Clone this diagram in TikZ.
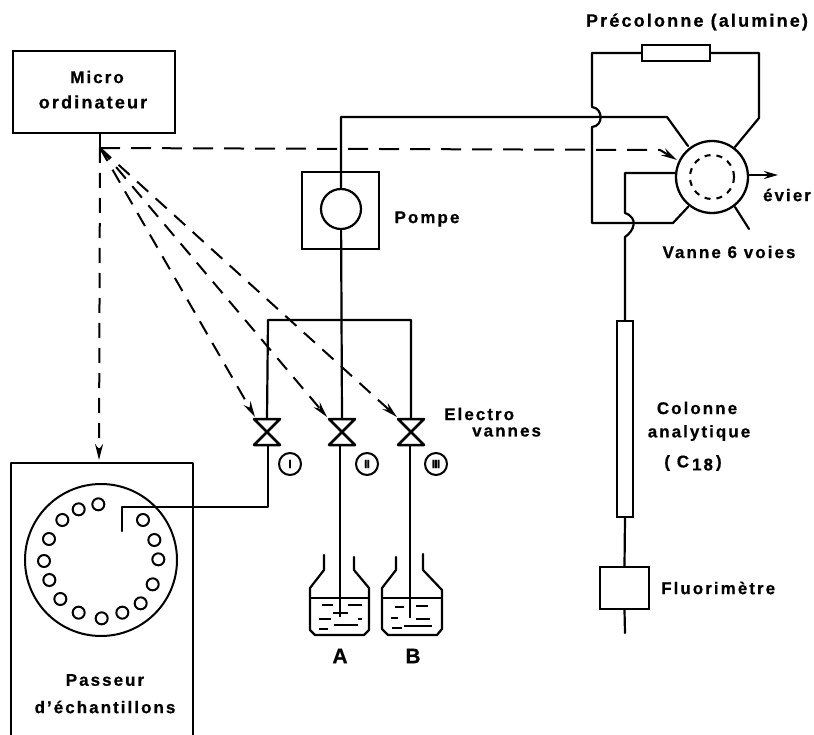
\documentclass[tikz,border=0pt]{standalone}
\usepackage{fontspec}
\setmainfont{Liberation Sans}[LetterSpace=12,BoldFeatures={FakeBold=0.6}]
\usetikzlibrary{arrows.meta}
\tikzset{
  pipe/.style={line width=2.2pt,line join=round,line cap=round},
  ctl/.style={line width=2pt,dash pattern=on 15pt off 10pt,-{Stealth[length=16pt,width=8pt]}},
  box/.style={draw,line width=2.2pt,inner sep=0pt},
  lab/.style={font=\fontsize{17}{20}\selectfont\bfseries,inner sep=0pt},
  num/.style={draw,circle,line width=2pt,minimum size=22pt,inner sep=0pt,font=\fontsize{12}{12}\selectfont\bfseries\addfontfeature{LetterSpace=-6}},
  vial/.style={draw,circle,line width=2pt,minimum size=12pt,inner sep=0pt},
}
\newcommand{\valvetie}[1]{\draw[pipe,line width=2.5pt] (#1)++(-13,0) -- ++(26,0) -- ++(-26,26) -- ++(26,0) -- cycle;}
\begin{document}
\begin{tikzpicture}[x=1pt,y=-1pt]
\useasboundingbox (0,0) rectangle (814,735);
% boxes
\node[box,minimum width=162pt,minimum height=82pt] (micro) at (94,92) {};
\node[lab] (microt) at (97,77) {Micro};
\node[lab,font=\fontsize{18}{20}\selectfont\bfseries] (microu) at (93,102) {ordinateur};
\node[box,minimum width=77pt,minimum height=77pt] (pompe) at (340.5,210.5) {};
\node[draw,circle,line width=2.2pt,minimum size=40pt,inner sep=0pt] (pcirc) at (341,209) {};
\node[lab] (pompet) at (427,219) {Pompe};
% passeur
\coordinate (pa) at (11,735); \coordinate (pb) at (11,463); \coordinate (pc) at (193,463); \coordinate (pd) at (193,735);
\draw[pipe] (pa) -- (pb) -- (pc) -- (pd);
\node[draw,circle,line width=2pt,minimum size=152pt,inner sep=0pt] (carou) at (101,560) {};
\foreach \i/\a/\b in {1/295/133,2/236/148,3/187/180,4/147/237,5/132/303,6/148/360,7/181/417,8/236/458,9/305/475,10/367/458,11/422/430,12/458/373,13/475/298,14/463/240,15/429/180}
  \node[vial] (v\i) at ({\a/3},{460+\b/3}) {};
\node[lab] (past) at (105,680) {Passeur};
\node[lab] (pasu) at (105,707) {d'échantillons};
% valves
\coordinate (vI) at (267,419); \coordinate (vII) at (342,419); \coordinate (vIII) at (411,419);
\valvetie{vI} \valvetie{vII} \valvetie{vIII}
\node[num] (nI) at (290,464) {I};
\node[num] (nII) at (367,464) {II};
\node[num] (nIII) at (436,464) {III};
\node[lab,anchor=west] (elect) at (444,414) {Electro};
\node[lab,anchor=west] (elecu) at (472,432) {vannes};
% pipes near pump and valves
\coordinate (tl) at (268,320); \coordinate (tr) at (411,320);
\draw[pipe] (vI) -- (tl) -- (tr) -- (vIII);
\draw[pipe] (pcirc) -- (vII);
\coordinate (iA) at (268,445); \coordinate (iB) at (268,507); \coordinate (iC) at (122,507); \coordinate (iD) at (122,531);
\draw[pipe] (iA) -- (iB) -- (iC) -- (iD);
% bottles
\coordinate (bA) at (340,445); \coordinate (eA) at (340,617);
\draw[line width=2pt] (bA) -- (eA);
\coordinate (bB) at (410,445); \coordinate (eB) at (410,618);
\draw[line width=2pt] (bB) -- (eB);
\draw[pipe] (324,555) -- (324,570) -- (310,588) -- (310,630) -- (315,635) -- (364,635) -- (369,630) -- (369,588) -- (354,570) -- (354,557);
\draw[pipe,line width=1.8pt] (310,598) -- (369,598);
\draw[pipe] (396,557) -- (396,570) -- (382,588) -- (382,629) -- (388,635) -- (437,635) -- (442,629) -- (442,590) -- (423,570) -- (423,554);
\draw[pipe,line width=1.8pt] (382,598) -- (442,598);
\foreach \p/\q/\r in {322/333/605,348/362/605,333/348/613,319/331/619,358/362/619,319/328/629,334/358/625,395/404/607,416/428/606,416/430/619,391/398/618,392/402/628,404/432/626}
  \draw[line width=1.5pt] (\p,\r) -- (\q,\r);
\node[font=\fontsize{21}{21}\selectfont\bfseries,inner sep=0pt] (labA) at (340,656) {A};
\node[font=\fontsize{21}{21}\selectfont\bfseries,inner sep=0pt] (labB) at (413,656) {B};
% six-way valve
\node[draw,circle,line width=2.3pt,minimum size=72pt,inner sep=0pt] (six) at (712,177) {};
\node[draw,circle,line width=2.1pt,dash pattern=on 6pt off 6pt,minimum size=44pt,inner sep=0pt] (sixin) at (712,177) {};
\node[box,minimum width=68pt,minimum height=16pt] (prec) at (676,53) {};
\node[lab,font=\fontsize{18}{20}\selectfont\bfseries] (prect) at (697,22) {Précolonne (alumine)};
\node[lab] (vannet) at (729,252) {Vanne 6 voies};
\node[lab] (evier) at (787,195) {évier};
\coordinate (p1) at (592,53); \coordinate (p2) at (592,107); \coordinate (p3) at (592,127); \coordinate (p4) at (592,223); \coordinate (p5) at (673,223); \coordinate (p6) at (688,207);
\draw[pipe] (prec.west) -- (p1) -- (p2) .. controls (603,108) and (604,126) .. (p3) -- (p4) -- (p5) -- (p6);
\coordinate (q1) at (759,53); \coordinate (q2) at (759,118); \coordinate (q3) at (735,147);
\draw[pipe] (prec.east) -- (q1) -- (q2) -- (q3);
\coordinate (r1) at (341,117); \coordinate (r2) at (667,117); \coordinate (r3) at (688,146);
\draw[pipe] (pcirc) -- (r1) -- (r2) -- (r3);
\coordinate (s1) at (676,173); \coordinate (s2) at (625,173); \coordinate (s3) at (625,213); \coordinate (s4) at (625,237);
% column
\node[box,minimum width=16pt,minimum height=196pt] (col) at (625,419) {};
\draw[pipe] (s1) -- (s2) -- (s3) .. controls (639,218) and (634,231) .. (s4) -- (col.north);
\node[lab] (colt) at (697,408) {Colonne};
\node[lab] (colu) at (699,433) {analytique};
\node[lab] (colv) at (693,463) {( C\hspace{3pt}\raisebox{-3pt}{18}\hspace{3pt})};
\node[box,minimum width=49pt,minimum height=42pt] (fluo) at (624.5,588) {};
\node[lab,anchor=west] (fluot) at (661,588) {Fluorimètre};
\coordinate (f1) at (625,633);
\draw[pipe] (col.south) -- (fluo.north);
\draw[pipe] (fluo.south) -- (f1);
\coordinate (o1) at (735,207); \coordinate (o2) at (749,229);
\draw[pipe] (o1) -- (o2);
\coordinate (ev1) at (748,175); \coordinate (ev2) at (778,175);
\draw[pipe,-{Stealth[length=14pt,width=8pt]}] (ev1) -- (ev2);
% control lines
\coordinate (apex) at (100,148);
\coordinate (tI) at (255,417); \coordinate (tII) at (327,417); \coordinate (tIII) at (397,417);
\coordinate (tP) at (99,460); \coordinate (kink) at (660,150); \coordinate (tS) at (677,160);
\draw[pipe] (micro.south -| apex) -- (apex);
\draw[ctl] (apex) -- (tI);
\draw[ctl] (apex) -- (tII);
\draw[ctl] (apex) -- (tIII);
\draw[ctl] (apex) -- (tP);
\draw[ctl,dash pattern=on 20pt off 11pt] (apex) -- (kink) -- (tS);
\end{tikzpicture}
\end{document}
